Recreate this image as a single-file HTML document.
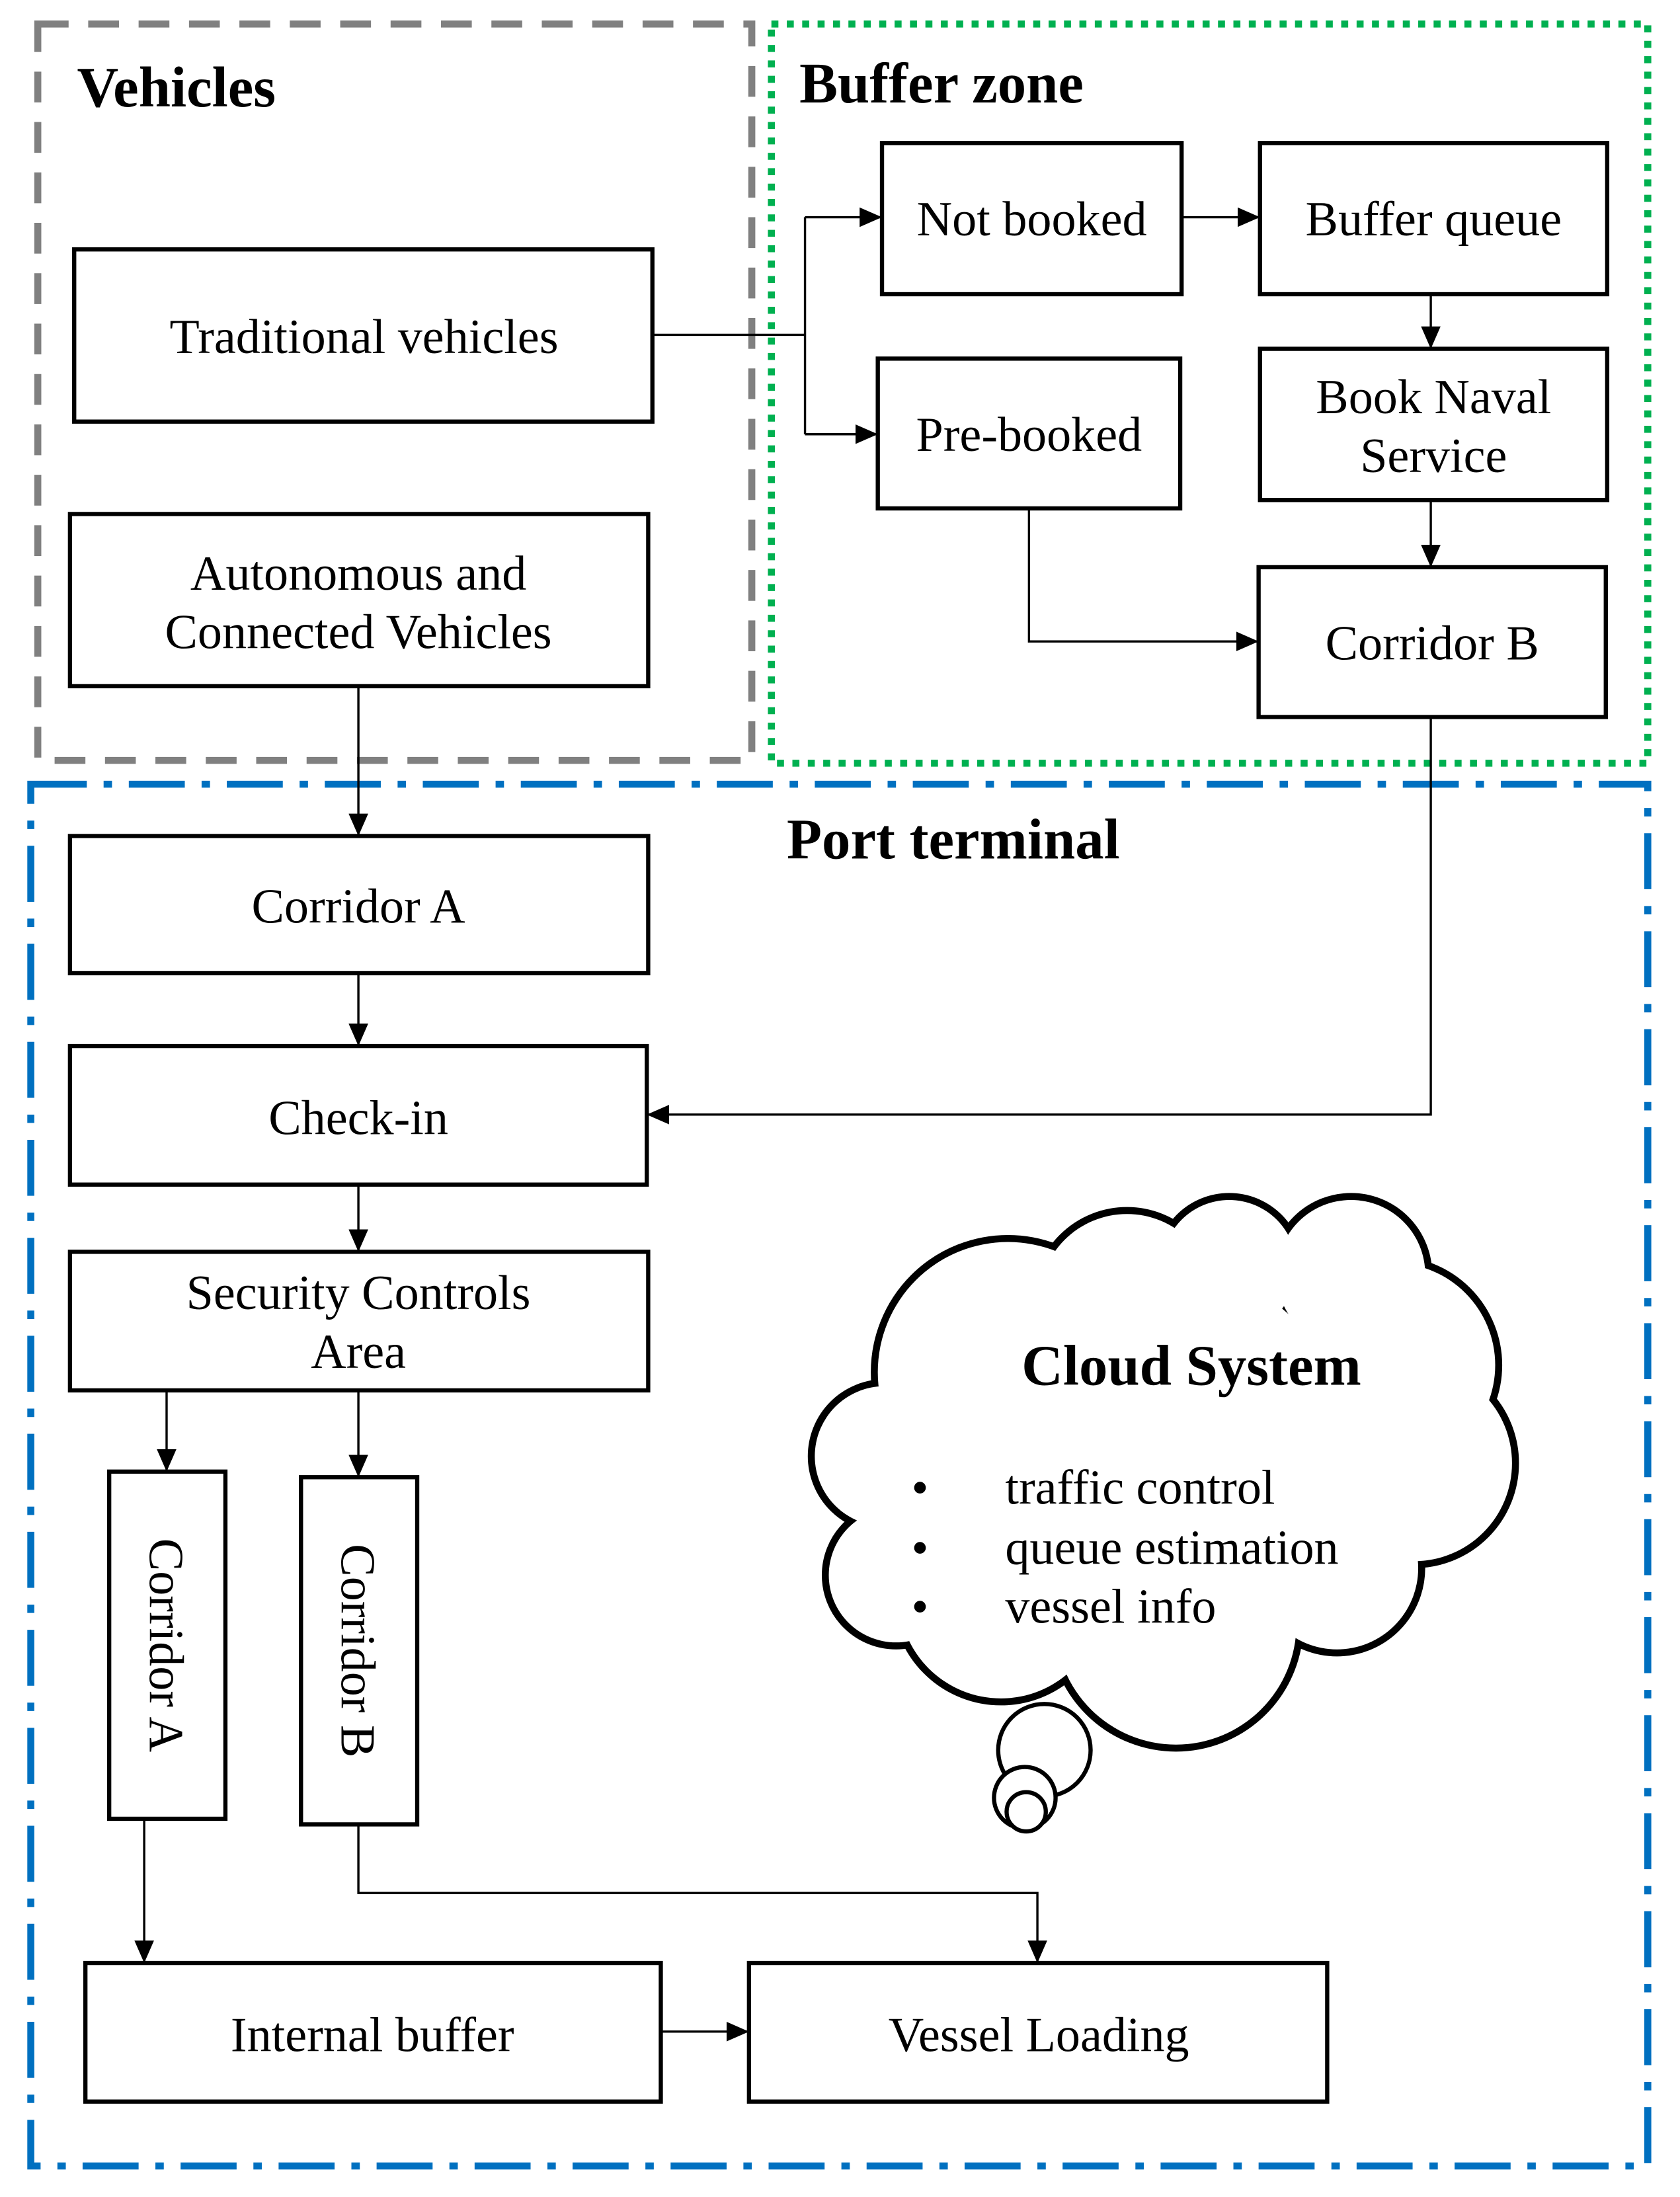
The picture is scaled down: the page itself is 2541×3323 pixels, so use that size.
<!DOCTYPE html>
<html><head><meta charset="utf-8"><style>
html,body{margin:0;padding:0;background:#fff}
svg{display:block}
text{font-family:"Liberation Serif",serif;fill:#000}
</style></head><body>
<svg width="2541" height="3323" viewBox="0 0 1200 1569" xmlns="http://www.w3.org/2000/svg">
<defs>
<marker id="a" markerWidth="16" markerHeight="14" refX="15" refY="7" orient="auto" markerUnits="userSpaceOnUse" viewBox="0 0 16 14">
<path d="M0,0 L16,7 L0,14 z" fill="#000"/></marker>
</defs>
<rect width="1200" height="1569" fill="#fff"/>
<rect x="27" y="17" width="510" height="526" fill="none" stroke="#808080" stroke-width="5" stroke-dasharray="22,14"/>
<rect x="551" y="17" width="626" height="528" fill="none" stroke="#00b050" stroke-width="5" stroke-dasharray="5,6"/>
<rect x="22" y="560" width="1155" height="987" fill="none" stroke="#0070c0" stroke-width="5" stroke-dasharray="40,12,6,12"/>
<text x="55" y="76" font-size="41" font-weight="bold">Vehicles</text>
<text x="571" y="73" font-size="41" font-weight="bold">Buffer zone</text>
<text x="562" y="613" font-size="41" font-weight="bold">Port terminal</text>
<g fill="#fff" stroke="#000" stroke-width="3">
<rect x="53" y="178" width="413" height="123"/>
<rect x="50" y="367" width="413" height="123"/>
<rect x="630" y="102" width="214" height="108"/>
<rect x="900" y="102" width="248" height="108"/>
<rect x="627" y="256" width="216" height="107"/>
<rect x="900" y="249" width="248" height="108"/>
<rect x="899" y="405" width="248" height="107"/>
<rect x="50" y="597" width="413" height="98"/>
<rect x="50" y="747" width="412" height="99"/>
<rect x="50" y="894" width="413" height="99"/>
<rect x="78" y="1051" width="83" height="248"/>
<rect x="215" y="1055" width="83" height="248"/>
<rect x="61" y="1402" width="411" height="99"/>
<rect x="535" y="1402" width="413" height="99"/>
</g>
<g font-size="35" text-anchor="middle">
<text x="260" y="252">Traditional vehicles</text>
<text x="256" y="421">Autonomous and</text>
<text x="256" y="463">Connected Vehicles</text>
<text x="737" y="168">Not booked</text>
<text x="1024" y="168">Buffer queue</text>
<text x="735" y="322">Pre-booked</text>
<text x="1024" y="295">Book Naval</text>
<text x="1024" y="337">Service</text>
<text x="1023" y="471">Corridor B</text>
<text x="256" y="659">Corridor A</text>
<text x="256" y="810">Check-in</text>
<text x="256" y="935">Security Controls</text>
<text x="256" y="977">Area</text>
<text x="266" y="1465">Internal buffer</text>
<text x="742" y="1465">Vessel Loading</text>
<text transform="translate(107,1175) rotate(90)">Corridor A</text>
<text transform="translate(244,1179) rotate(90)">Corridor B</text>
</g>
<g fill="none" stroke="#000" stroke-width="1.6">
<path d="M466,239 H575"/>
<path d="M575,155 V310"/>
<path d="M575,155 H629" marker-end="url(#a)"/>
<path d="M575,310 H626" marker-end="url(#a)"/>
<path d="M844,155 H899" marker-end="url(#a)"/>
<path d="M1022,210 V248" marker-end="url(#a)"/>
<path d="M1022,357 V404" marker-end="url(#a)"/>
<path d="M735,363 V458 H898" marker-end="url(#a)"/>
<path d="M1022,512 V796 H463" marker-end="url(#a)"/>
<path d="M256,490 V596" marker-end="url(#a)"/>
<path d="M256,695 V746" marker-end="url(#a)"/>
<path d="M256,846 V893" marker-end="url(#a)"/>
<path d="M119,993 V1050" marker-end="url(#a)"/>
<path d="M256,993 V1054" marker-end="url(#a)"/>
<path d="M103,1299 V1401" marker-end="url(#a)"/>
<path d="M256,1303 V1352 H741 V1401" marker-end="url(#a)"/>
<path d="M472,1451 H534" marker-end="url(#a)"/>
</g>
<g stroke="#000" stroke-width="6" fill="#fff">
<circle cx="720" cy="980" r="95"/>
<circle cx="805" cy="930" r="65"/>
<circle cx="878" cy="905" r="50"/>
<circle cx="965" cy="910" r="55"/>
<circle cx="995" cy="975" r="75"/>
<circle cx="1010" cy="1045" r="72"/>
<circle cx="955" cy="1120" r="60"/>
<circle cx="840" cy="1160" r="88"/>
<circle cx="715" cy="1140" r="75"/>
<circle cx="640" cy="1125" r="50"/>
<circle cx="632" cy="1040" r="52"/>
</g>
<g fill="#fff">
<circle cx="720" cy="980" r="93"/>
<circle cx="805" cy="930" r="63"/>
<circle cx="878" cy="905" r="48"/>
<circle cx="965" cy="910" r="53"/>
<circle cx="995" cy="975" r="73"/>
<circle cx="1010" cy="1045" r="70"/>
<circle cx="955" cy="1120" r="58"/>
<circle cx="840" cy="1160" r="86"/>
<circle cx="715" cy="1140" r="73"/>
<circle cx="640" cy="1125" r="48"/>
<circle cx="632" cy="1040" r="50"/>
<circle cx="820" cy="1050" r="150"/>
<circle cx="680" cy="1080" r="60"/>
</g>
<g fill="#fff" stroke="#000" stroke-width="3">
<circle cx="746" cy="1250" r="33"/>
<circle cx="732" cy="1284" r="22"/>
<circle cx="733" cy="1294" r="14"/>
</g>
<text x="851" y="989" font-size="41" font-weight="bold" text-anchor="middle">Cloud System</text>
<g font-size="35">
<text x="651" y="1074">•</text><text x="718" y="1074">traffic control</text>
<text x="651" y="1117">•</text><text x="718" y="1117">queue estimation</text>
<text x="651" y="1159">•</text><text x="718" y="1159">vessel info</text>
</g>
</svg>
</body></html>
